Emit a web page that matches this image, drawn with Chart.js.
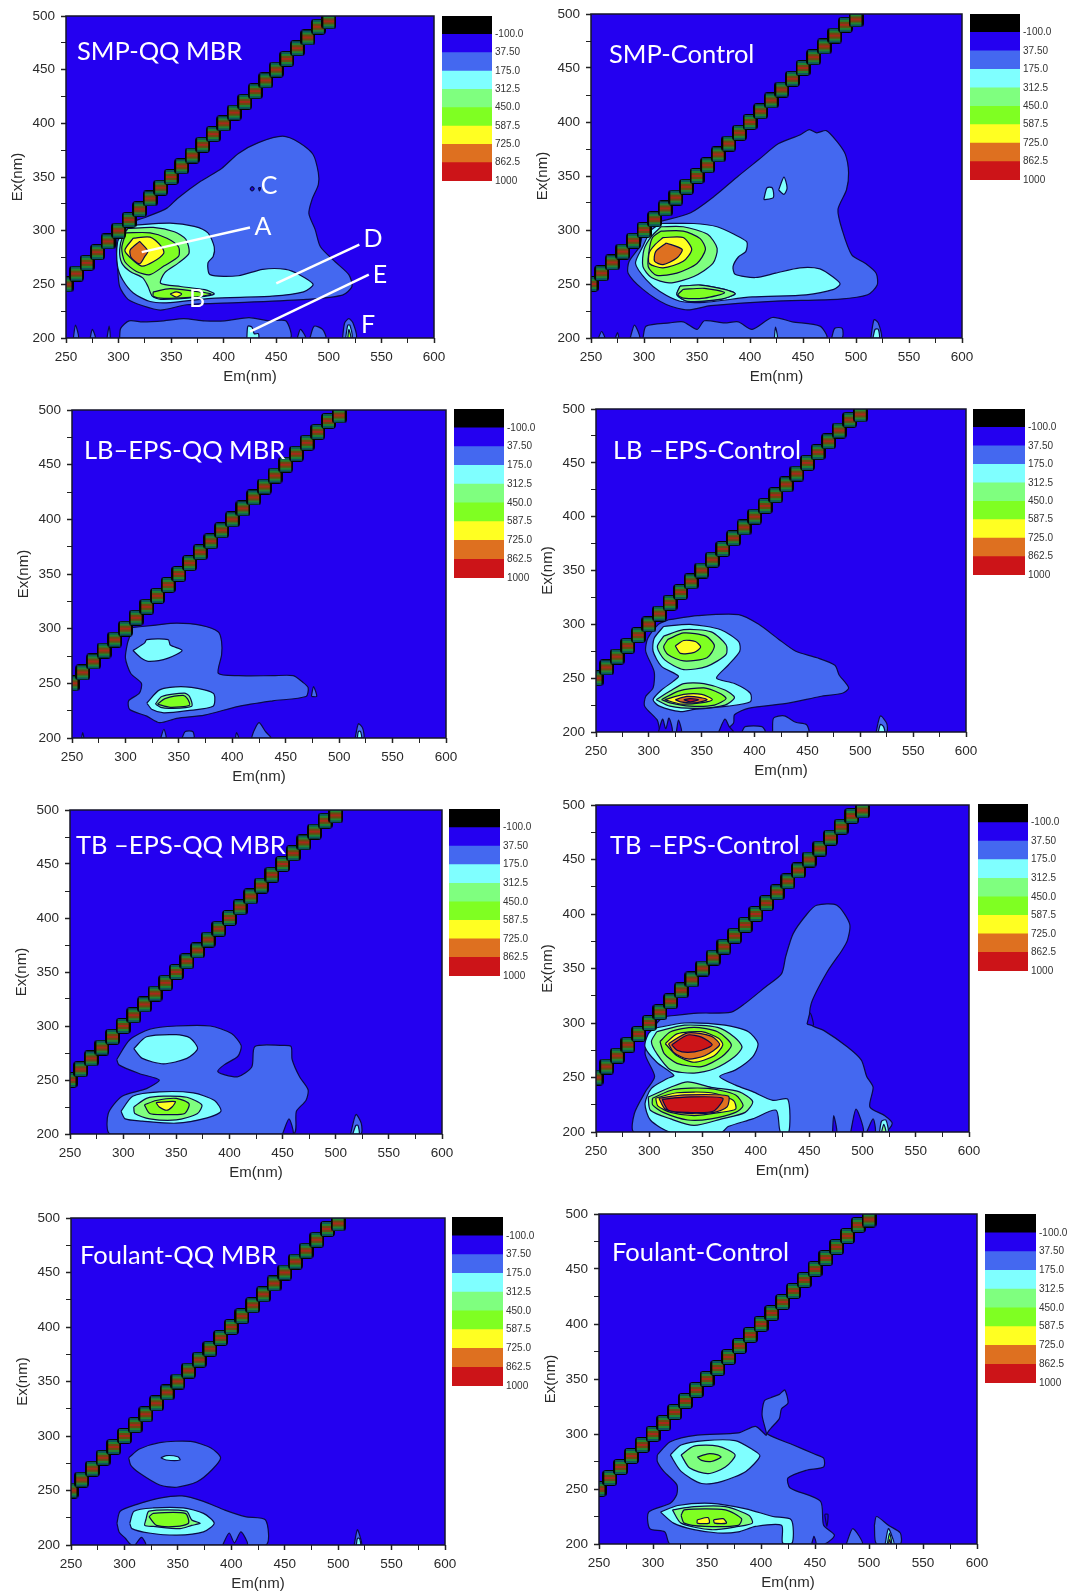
<!DOCTYPE html>
<html>
<head>
<meta charset="utf-8">
<title>EEM contour panels</title>
<script src="https://cdn.jsdelivr.net/npm/chart.js@4"></script>
<style>
    html, body { margin: 0; padding: 0; background: #ffffff; }
    #page { position: relative; width: 1068px; height: 1592px; overflow: hidden; }
    #page canvas { position: absolute; filter: blur(0.7px); }
    .note { position: absolute; color: #ffffff; font-family: Lato, "Open Sans", sans-serif; white-space: nowrap; line-height: 1; transform: translateY(-50%); }
</style>
</head>
<body>
<div id="page"></div>
<script>
// Colour bar (bottom to top) and axis ticks
const barLabels = ['1000', '862.5', '725.0', '587.5', '450.0', '312.5', '175.0', '37.50', '-100.0', ''];
const barValues = [1, 1, 1, 1, 1, 1, 1, 1, 1];
const emRange = [250, 600];
const exRange = [200, 500];

// Rayleigh scatter band, one mark every 10 nm
const scatterEm = [250, 260, 270, 280, 290, 300, 310, 320, 330, 340, 350, 360, 370, 380, 390, 400, 410, 420, 430, 440, 450, 460, 470, 480, 490, 500];
const scatterEx = [250, 260, 270, 280, 290, 300, 310, 320, 330, 340, 350, 360, 370, 380, 390, 400, 410, 420, 430, 440, 450, 460, 470, 480, 490, 495];

// Contours as [Em, Ex] outlines: one list per level, lowest level first

const smpQqBands = [
    [
        [[312,308],[327,313],[346,321],[356,330],[378,346],[398,358],[414,372],[433,382],[456,388],[472,382],[485,371],[490,354],[490,343],[484,329],[481,316],[487,301],[492,285],[506,271],[519,259],[522,248],[513,240],[479,236],[414,233],[365,231],[340,226],[323,230],[309,236],[301,248],[299,267],[298,282],[299,295],[304,304]],
        [[301,200],[302,209],[310,216],[323,215],[343,216],[362,218],[382,216],[401,216],[424,219],[443,216],[459,216],[463,200]],
        [[257,200],[259,212],[262,200]],
        [[273,200],[275,208],[278,200]],
        [[289,200],[291,211],[292,200]],
        [[470,200],[473,208],[478,200]],
        [[482,200],[486,211],[494,208],[497,200]],
        [[513,200],[515,214],[519,218],[523,214],[526,200]]
    ],
    [
        [[312,305],[349,307],[372,304],[385,298],[391,285],[390,276],[385,270],[387,259],[414,258],[437,264],[459,264],[472,259],[485,250],[476,243],[446,239],[388,237],[349,233],[330,234],[314,242],[304,254],[299,267],[299,289],[304,298]],
        [[422,200],[423,211],[427,210],[429,204],[433,204],[433,200]],
        [[516,200],[518,212],[520,212],[522,200]]
    ],
    [
        [[309,302],[333,303],[353,299],[364,292],[367,279],[357,270],[344,261],[340,251],[359,248],[382,245],[391,241],[375,238],[340,236],[332,239],[328,248],[323,256],[311,262],[303,270],[301,282],[304,295]]
    ],
    [
        [[307,298],[330,298],[346,293],[357,285],[357,276],[343,267],[330,259],[317,262],[306,271],[303,284]],
        [[333,243],[349,246],[369,244],[388,241],[372,238],[343,237],[333,239]],
        [[518,200],[519,208],[521,200]]
    ],
    [
        [[314,293],[330,294],[341,285],[343,279],[333,271],[322,267],[311,275],[306,282]],
        [[349,241],[355,243],[360,241],[355,238]]
    ],
    [
        [[320,290],[328,281],[325,276],[320,269],[312,275],[311,282]]
    ]
];
const smpQqGaps = [
    [[425,339],[427,341],[429,339],[427,337]],
    [[433,340],[434,337],[435,340]]
];

const smpCtrlBands = [
    [
        [[316,308],[344,316],[366,331],[389,350],[408,365],[427,380],[447,388],[456,393],[463,390],[472,392],[482,382],[490,370],[493,353],[491,337],[483,319],[487,300],[496,277],[509,269],[519,260],[520,249],[511,240],[485,236],[421,234],[363,230],[341,226],[321,231],[299,245],[285,260],[286,271],[296,285],[300,300]],
        [[299,200],[302,211],[324,214],[337,215],[350,208],[357,216],[376,214],[389,215],[402,208],[421,219],[440,215],[466,211],[472,200]],
        [[257,200],[260,206],[263,200]],
        [[273,200],[275,205],[276,200]],
        [[287,200],[291,212],[296,200]],
        [[477,200],[480,209],[487,209],[487,200]],
        [[514,200],[517,217],[521,214],[524,200]]
    ],
    [
        [[316,306],[347,306],[369,303],[385,296],[397,289],[396,280],[389,275],[384,266],[386,259],[405,256],[424,260],[447,265],[466,264],[479,256],[485,250],[479,245],[453,240],[402,238],[357,233],[334,234],[315,243],[302,254],[292,269],[299,285],[307,300]],
        [[334,248],[353,249],[376,245],[386,241],[373,236],[341,234],[331,240]],
        [[413,328],[416,339],[421,339],[422,330]],
        [[427,337],[432,349],[435,339],[432,333]],
        [[423,200],[424,210],[426,200]],
        [[516,200],[518,208],[521,208],[522,200]]
    ],
    [
        [[316,303],[337,303],[360,296],[369,283],[365,269],[347,257],[324,251],[307,256],[299,266],[300,282],[307,294]],
        [[334,248],[353,249],[376,245],[386,241],[373,236],[341,234],[331,240]]
    ],
    [
        [[316,299],[337,299],[353,292],[358,282],[350,269],[331,260],[312,258],[304,266],[305,282],[308,293]],
        [[337,245],[357,246],[376,242],[357,237],[337,237],[332,240]]
    ],
    [
        [[318,293],[337,293],[345,282],[337,271],[318,265],[305,269],[305,279],[310,286]]
    ],
    [
        [[321,288],[336,282],[331,274],[318,268],[310,271],[311,280]]
    ]
];

const lbQqBands = [
    [
        [[305,301],[326,303],[348,305],[371,303],[387,297],[390,288],[390,276],[387,259],[406,257],[438,257],[457,257],[466,251],[471,246],[469,238],[438,234],[406,229],[374,221],[348,218],[332,214],[320,220],[304,226],[303,234],[313,241],[315,250],[305,259],[300,273],[302,287],[305,296]],
        [[418,200],[420,206],[425,214],[431,206],[436,200]],
        [[353,200],[356,206],[363,206],[364,200]],
        [[333,200],[336,208],[338,200]],
        [[403,200],[404,205],[406,200]],
        [[259,200],[260,205],[261,200]],
        [[515,200],[518,213],[522,209],[523,200]],
        [[474,238],[476,247],[479,238]]
    ],
    [
        [[307,280],[318,287],[320,290],[340,290],[342,285],[353,280],[340,273],[323,270],[315,273]],
        [[320,232],[332,244],[352,247],[374,244],[383,240],[382,229],[358,225],[336,223],[325,226]],
        [[517,200],[518,206],[520,206],[521,200]]
    ],
    [
        [[328,231],[334,238],[355,241],[360,238],[362,229],[342,227],[333,228]]
    ],
    [
        [[330,231],[337,236],[354,239],[358,236],[360,230],[342,228]]
    ]
];

const lbCtrlBands = [
    [
        [[318,304],[346,308],[385,309],[404,300],[423,286],[439,275],[459,269],[476,262],[480,253],[489,241],[483,236],[462,233],[433,227],[394,222],[381,216],[380,208],[368,200],[312,200],[308,211],[296,224],[297,233],[304,241],[305,256],[297,275],[299,287],[309,300]],
        [[417,200],[418,213],[428,215],[439,209],[449,207],[451,200]],
        [[388,200],[391,205],[407,205],[410,200]],
        [[515,200],[519,215],[525,208],[525,200]]
    ],
    [
        [[314,298],[339,300],[368,295],[385,284],[386,275],[375,262],[364,250],[381,245],[396,236],[396,228],[375,224],[343,221],[330,219],[310,224],[304,230],[312,239],[323,247],[328,252],[312,261],[304,275],[305,287]],
        [[517,200],[519,207],[522,205],[523,200]]
    ],
    [
        [[314,289],[333,295],[359,293],[373,281],[373,272],[355,261],[333,258],[315,267],[308,279]],
        [[307,230],[320,238],[333,245],[352,245],[372,239],[381,232],[372,225],[346,222],[320,224]]
    ],
    [
        [[318,286],[333,292],[354,289],[362,280],[355,269],[333,266],[318,272],[314,279]],
        [[312,230],[328,238],[352,241],[367,236],[373,231],[362,225],[339,224],[320,227]]
    ],
    [
        [[325,280],[333,285],[344,284],[349,279],[343,274],[330,273]],
        [[315,230],[333,235],[350,235],[360,230],[349,227],[330,226]]
    ],
    [
        [[325,230],[336,233],[349,232],[355,230],[343,227],[330,228]]
    ],
    [
        [[333,230],[339,231],[347,230],[339,228]]
    ]
];
const lbCtrlGaps = [
    [[309,200],[313,212],[316,203],[319,213],[322,200]],
    [[326,200],[328,211],[331,200]],
    [[366,200],[372,212],[376,205],[380,200]]
];

const tbQqBands = [
    [
        [[294,269],[306,287],[325,297],[350,300],[382,300],[402,293],[411,282],[408,272],[395,264],[389,258],[395,255],[408,253],[421,262],[424,281],[450,282],[458,281],[459,269],[466,253],[474,241],[472,231],[463,221],[460,200],[288,200],[286,219],[299,235],[322,242],[334,250],[315,256],[296,264]],
        [[514,200],[519,218],[524,210],[524,200]]
    ],
    [
        [[310,279],[322,290],[350,292],[363,289],[370,279],[360,270],[338,265],[318,270]],
        [[298,221],[309,235],[334,239],[366,238],[386,231],[392,221],[379,215],[350,210],[318,212],[302,214]],
        [[516,200],[519,208],[521,208],[522,200]]
    ],
    [
        [[310,225],[322,233],[338,235],[360,234],[374,227],[370,219],[350,213],[325,214],[311,219]]
    ],
    [
        [[320,227],[331,231],[350,233],[362,228],[358,219],[341,218],[325,219]]
    ],
    [
        [[331,229],[349,230],[346,225],[341,222],[334,225]]
    ]
];
const tbQqGaps = [
    [[450,200],[456,214],[460,200]]
];

const tbCtrlBands = [
    [
        [[315,306],[345,309],[377,310],[390,318],[409,333],[424,345],[428,361],[435,382],[448,400],[457,408],[476,408],[488,391],[486,376],[481,367],[467,347],[452,318],[451,299],[464,293],[486,278],[499,266],[504,251],[510,241],[507,223],[521,215],[528,208],[521,200],[286,200],[286,217],[297,238],[305,251],[296,272],[302,293],[310,303]]
    ],
    [
        [[304,295],[333,300],[371,298],[393,292],[402,281],[397,269],[381,257],[366,251],[381,243],[397,237],[416,229],[430,230],[431,200],[423,200],[419,220],[397,212],[374,205],[368,200],[320,200],[301,211],[296,226],[302,240],[317,249],[323,252],[307,264],[296,278],[299,290]],
        [[516,200],[518,210],[522,211],[524,200]]
    ],
    [
        [[307,292],[333,298],[364,296],[380,287],[387,278],[380,269],[361,258],[342,254],[320,257],[307,272],[302,283]],
        [[299,232],[320,241],[336,246],[358,241],[384,237],[397,228],[390,218],[368,212],[342,206],[320,212],[301,220]],
        [[518,200],[520,207],[522,200]]
    ],
    [
        [[310,283],[320,292],[342,296],[364,292],[377,280],[368,269],[349,260],[326,263],[314,272]],
        [[303,231],[323,239],[355,240],[381,234],[388,224],[381,218],[358,212],[336,211],[313,218],[303,225]]
    ],
    [
        [[315,281],[326,290],[349,292],[365,286],[369,280],[361,270],[342,264],[326,270]],
        [[306,231],[326,236],[358,236],[379,229],[381,221],[367,218],[342,215],[320,218],[308,224]]
    ],
    [
        [[318,281],[336,291],[358,288],[366,280],[352,270],[336,267],[323,273]],
        [[309,231],[333,234],[374,233],[373,223],[361,218],[336,217],[315,221]]
    ],
    [
        [[321,280],[336,289],[349,287],[359,280],[349,275],[336,273],[326,275]],
        [[312,230],[334,232],[369,231],[360,219],[336,218],[318,220]]
    ]
];
const tbCtrlGaps = [
    [[472,200],[473,215],[476,200]],
    [[489,200],[494,221],[501,200]],
    [[504,200],[510,212],[512,200]],
    [[448,299],[451,309],[454,298]]
];

const foulantQqBands = [
    [
        [[304,280],[314,288],[333,294],[362,295],[381,289],[390,280],[382,269],[368,258],[349,253],[333,255],[314,266],[306,273]],
        [[293,220],[296,231],[311,237],[333,243],[354,245],[374,240],[394,232],[413,226],[432,223],[432,200],[307,200],[301,206],[295,212]],
        [[515,200],[518,214],[521,206],[522,200]]
    ],
    [
        [[334,280],[339,282],[350,281],[352,278],[339,278]],
        [[305,220],[309,231],[327,234],[355,234],[374,229],[384,220],[374,212],[349,209],[323,211],[307,215]],
        [[517,200],[518,206],[520,206],[521,200]]
    ],
    [
        [[320,223],[323,231],[358,231],[363,223],[371,220],[363,218],[352,215],[327,217],[319,218]]
    ],
    [
        [[323,226],[327,229],[357,229],[360,220],[349,217],[330,218]]
    ]
];
const foulantQqGaps = [
    [[310,200],[316,207],[320,200]],
    [[392,200],[398,211],[403,202],[409,212],[415,200]]
];

const foulantCtrlBands = [
    [
        [[304,281],[316,293],[341,299],[379,301],[395,307],[405,299],[401,317],[403,330],[409,333],[417,336],[422,340],[425,328],[419,323],[417,314],[409,305],[406,300],[430,290],[449,282],[458,278],[458,270],[442,267],[425,260],[427,251],[455,239],[458,217],[468,208],[458,200],[316,200],[311,211],[297,214],[296,229],[316,237],[322,245],[322,254],[310,266],[304,275]],
        [[479,200],[485,214],[494,200]],
        [[505,217],[507,225],[518,217],[529,210],[529,200],[507,200]]
    ],
    [
        [[316,281],[326,290],[348,294],[376,294],[392,286],[399,280],[386,266],[364,257],[345,255],[326,266]],
        [[307,229],[323,235],[354,237],[386,232],[411,225],[428,222],[429,201],[420,201],[419,217],[395,216],[379,211],[360,210],[338,213],[319,219]],
        [[515,200],[518,214],[522,205],[523,200]]
    ],
    [
        [[326,281],[338,289],[360,289],[376,281],[367,270],[351,264],[334,269]],
        [[318,231],[338,234],[367,234],[389,226],[392,219],[379,216],[354,213],[326,219]]
    ],
    [
        [[341,279],[351,282],[360,281],[363,279],[354,275],[345,276]],
        [[326,226],[329,231],[367,231],[382,223],[379,217],[348,216],[329,219]],
        [[517,200],[519,210],[521,200]]
    ],
    [
        [[341,222],[351,224],[352,219],[341,219]],
        [[356,222],[365,223],[368,219],[357,219]],
        [[518,200],[519,204],[520,200]]
    ]
];
const foulantCtrlGaps = [
    [[447,200],[449,207],[451,200]],
    [[459,227],[462,227],[461,216]]
];

// Leader lines on the first panel, [Em, Ex]
const leaderA = [[425, 303], [322, 280]];
const leaderD = [[529, 287], [450, 251]];
const leaderE = [[538, 259], [425, 206]];

const panelTitles = ['SMP-QQ MBR', 'SMP-Control', 'LB–EPS-QQ MBR', 'LB –EPS-Control', 'TB –EPS-QQ MBR', 'TB –EPS-Control', 'Foulant-QQ MBR', 'Foulant-Control'];
const panelBands = [smpQqBands, smpCtrlBands, lbQqBands, lbCtrlBands, tbQqBands, tbCtrlBands, foulantQqBands, foulantCtrlBands];
const panelGaps = [smpQqGaps, [], [], lbCtrlGaps, tbQqGaps, tbCtrlGaps, foulantQqGaps, foulantCtrlGaps];
const panelLeaders = [[leaderA, leaderD, leaderE], [], [], [], [], [], [], []];

// Layout: plot and bar [left, top, right, bottom], title [x, y, size]
const plotBoxes = [[66, 16, 434, 338], [591, 14, 962, 338], [72, 410, 446, 738], [596, 409, 966, 732], [70, 810, 442, 1134], [596, 805, 969, 1132], [71, 1218, 445, 1545], [599, 1214, 977, 1544]];
const barBoxes = [[442, 16, 492, 181], [970, 14, 1020, 180], [454, 409, 504, 578], [973, 409, 1025, 575], [449, 809, 500, 976], [978, 804, 1028, 971], [452, 1217, 503, 1386], [985, 1214, 1036, 1383]];
const titleSpots = [[77, 51, 25.5], [609, 54, 25.5], [84, 450, 25.5], [613, 450, 25.5], [76, 845, 25.5], [610, 845, 25.5], [80, 1255, 25.5], [612, 1252, 25.5]];
const letterSpots = [['A', 263, 225], ['B', 197, 297], ['C', 269, 184], ['D', 373, 237], ['E', 380, 273], ['F', 368, 323]];

const bandColors = ['#2400f0', '#4468f0', '#7fffff', '#7fff7f', '#7fff22', '#ffff22', '#de7020', '#cc1418', '#000000'];
const barColors = ['#cc1418', '#de7020', '#ffff22', '#7fff22', '#7fff7f', '#7fffff', '#4468f0', '#2400f0', '#000000'];
const lineColor = '#0a0a45';
const axisFont = 'Liberation Sans, Arial, sans-serif';
const page = document.getElementById('page');

// Mark for the scatter band: dark block with horizontal colour stripes
function makeScatterMark() {
    const mark = document.createElement('canvas');
    mark.width = 15;
    mark.height = 16;
    const g = mark.getContext('2d');
    g.fillStyle = '#030303';
    g.beginPath();
    g.roundRect(0, 0, 15, 16, 4);
    g.fill();
    g.fillStyle = '#0c5660';
    g.fillRect(2, 1, 11, 14);
    g.fillStyle = '#1f8432';
    g.fillRect(2, 3, 11, 10);
    g.fillStyle = '#6a4a10';
    g.fillRect(2, 5, 11, 6);
    g.fillStyle = '#a8281a';
    g.fillRect(2, 7, 11, 2);
    return mark;
}
const scatterMark = makeScatterMark();

function outlineDataset(outline, color) {
    const closed = outline.concat([outline[0]]);
    return {
        data: closed.map(p => ({ x: p[0], y: p[1] })),
        showLine: true,
        fill: 'shape',
        backgroundColor: color,
        borderColor: lineColor,
        borderWidth: 1.2,
        pointRadius: 0,
        tension: 0.25,
        clip: 0
    };
}

// Plot background and frame
const plotFrame = {
    id: 'plotFrame',
    beforeDatasetsDraw(chart) {
        const a = chart.chartArea;
        chart.ctx.fillStyle = bandColors[0];
        chart.ctx.fillRect(a.left, a.top, a.right - a.left, a.bottom - a.top);
    },
    afterDatasetsDraw(chart) {
        const a = chart.chartArea;
        chart.ctx.strokeStyle = '#15152a';
        chart.ctx.lineWidth = 1.5;
        chart.ctx.strokeRect(a.left, a.top, a.right - a.left, a.bottom - a.top);
    }
};

function axisOptions(range, text, size, fit, titlePadding) {
    return {
        type: 'linear',
        min: range[0],
        max: range[1],
        afterFit: fit,
        border: { display: false },
        grid: {
            drawOnChartArea: false,
            tickLength: 5,
            tickColor: '#222222',
            tickWidth: c => (c.tick && c.tick.value % 50 === 0 ? 1.5 : 1)
        },
        ticks: {
            stepSize: 25,
            autoSkip: false,
            maxRotation: 0,
            padding: size,
            color: '#2a2a2a',
            font: { family: axisFont, size: 13.5 },
            callback: v => (v % 50 === 0 ? String(v) : '')
        },
        title: {
            display: true,
            text: text,
            color: '#2a2a2a',
            font: { family: axisFont, size: 15 },
            padding: titlePadding
        }
    };
}

function renderPanel(i) {
    const box = plotBoxes[i];
    const canvas = document.createElement('canvas');
    const marginLeft = 64, marginTop = 18, marginRight = 20, marginBottom = 53;
    canvas.width = box[2] - box[0] + marginLeft + marginRight;
    canvas.height = box[3] - box[1] + marginTop + marginBottom;
    canvas.style.left = (box[0] - marginLeft) + 'px';
    canvas.style.top = (box[1] - marginTop) + 'px';
    page.appendChild(canvas);

    // Bottom layer first
    const layers = [];
    panelBands[i].forEach((level, n) => {
        level.forEach(outline => layers.push(outlineDataset(outline, bandColors[n + 1])));
        if (n === 0) {
            panelGaps[i].forEach(outline => layers.push(outlineDataset(outline, bandColors[0])));
        }
    });
    layers.push({
        data: scatterEm.map((em, k) => ({ x: em, y: scatterEx[k] })),
        showLine: false,
        pointStyle: scatterMark,
        pointRadius: 7,
        clip: 0
    });
    panelLeaders[i].forEach(leader => layers.push({
        data: leader.map(p => ({ x: p[0], y: p[1] })),
        showLine: true,
        fill: false,
        borderColor: '#ffffff',
        borderWidth: 2.5,
        pointRadius: 0,
        clip: 0
    }));
    // Chart.js draws the lowest order on top
    layers.forEach((d, k) => { d.order = layers.length - k; });

    new Chart(canvas.getContext('2d'), {
        type: 'scatter',
        data: { datasets: layers },
        options: {
            responsive: false,
            animation: false,
            events: [],
            layout: { padding: { top: marginTop, right: marginRight } },
            plugins: { legend: { display: false }, tooltip: { enabled: false } },
            scales: {
                x: axisOptions(emRange, 'Em(nm)', 6, s => { s.height = marginBottom; }, { bottom: 5 }),
                y: axisOptions(exRange, 'Ex(nm)', 6, s => { s.width = marginLeft; }, { top: 7 })
            }
        },
        plugins: [plotFrame]
    });
}

function renderColorBar(i) {
    const box = barBoxes[i];
    const canvas = document.createElement('canvas');
    const labelWidth = 36, pad = 10;
    canvas.width = box[2] - box[0] + labelWidth;
    canvas.height = box[3] - box[1] + pad * 2;
    canvas.style.left = box[0] + 'px';
    canvas.style.top = (box[1] - pad) + 'px';
    page.appendChild(canvas);

    new Chart(canvas.getContext('2d'), {
        type: 'bar',
        data: {
            labels: [''],
            datasets: barValues.map((v, k) => ({
                data: [v],
                backgroundColor: barColors[k],
                barPercentage: 1,
                categoryPercentage: 1
            }))
        },
        options: {
            responsive: false,
            animation: false,
            events: [],
            layout: { padding: { top: pad, bottom: pad } },
            plugins: { legend: { display: false }, tooltip: { enabled: false } },
            scales: {
                x: { display: false, stacked: true },
                y: {
                    stacked: true,
                    position: 'right',
                    min: 0,
                    max: barValues.length,
                    afterFit: s => { s.width = labelWidth; },
                    border: { display: false },
                    grid: { display: false, drawTicks: false },
                    ticks: {
                        stepSize: 1,
                        autoSkip: false,
                        padding: 3,
                        color: '#333333',
                        font: { family: axisFont, size: 10 },
                        callback: v => barLabels[v]
                    }
                }
            }
        }
    });
}

function addNote(text, x, y, size) {
    const note = document.createElement('div');
    note.className = 'note';
    note.textContent = text;
    note.style.left = x + 'px';
    note.style.top = y + 'px';
    note.style.fontSize = size + 'px';
    page.appendChild(note);
    return note;
}

panelTitles.forEach((title, i) => {
    renderPanel(i);
    renderColorBar(i);
    addNote(title, titleSpots[i][0], titleSpots[i][1], titleSpots[i][2]);
});

letterSpots.forEach(s => {
    const note = addNote(s[0], s[1], s[2], 25);
    note.style.transform = 'translate(-50%, -50%)';
});
</script>
</body>
</html>
